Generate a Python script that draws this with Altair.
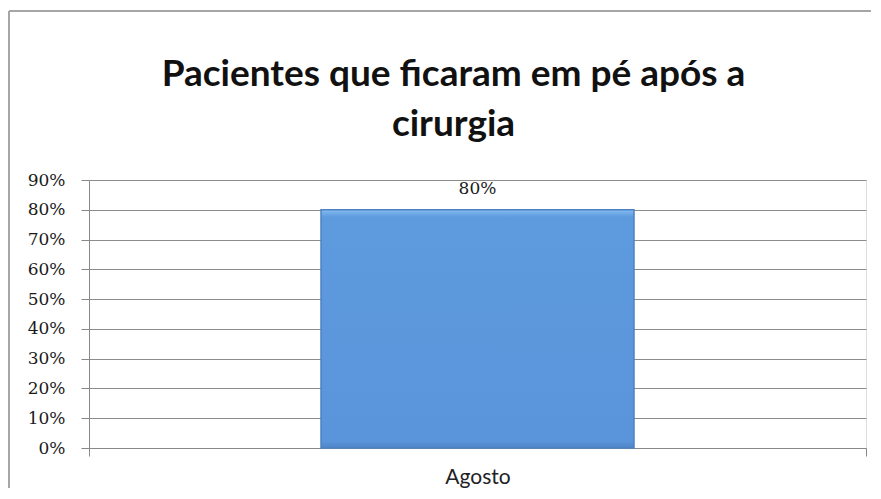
import altair as alt
import pandas as pd

categories = ["Agosto"]
values = [0.80]
labels = ["80%"]
title_lines = ["Pacientes que ficaram em pé após a", "cirurgia"]
y_ticks = [0, 0.1, 0.2, 0.3, 0.4, 0.5, 0.6, 0.7, 0.8, 0.9]

df = pd.DataFrame({"mes": categories, "valor": values, "rotulo": labels})

W, H = 777, 268

x_axis = alt.Axis(labelAngle=0, labelFont="Lato", labelFontSize=21,
                  labelColor="#222", labelPadding=10, tickBand="extent",
                  ticks=True, tickSize=8, tickColor="#888", domainColor="#888",
                  grid=False)
y_axis = alt.Axis(values=y_ticks, format=".0%", labelFont="DejaVu Serif",
                  labelFontSize=17, labelColor="#1a1a1a", labelPadding=16,
                  labelOverlap=False, tickSize=8, tickColor="#888",
                  domainColor="#888", gridColor="#8c8c8c", gridWidth=1)
x_enc = alt.X("mes:N", title=None, axis=x_axis,
              scale=alt.Scale(paddingInner=0, paddingOuter=0))
y_enc = alt.Y("valor:Q", title=None, axis=y_axis,
              scale=alt.Scale(domain=[0, 0.9], nice=False))

base = alt.Chart(df)

bars = base.mark_bar(
    size=313,
    color=alt.Gradient(
        gradient="linear", x1=0, y1=0, x2=0, y2=1,
        stops=[alt.GradientStop(offset=0, color="#86bdf0"),
               alt.GradientStop(offset=0.03, color="#5e9ade"),
               alt.GradientStop(offset=0.97, color="#5a95db"),
               alt.GradientStop(offset=1, color="#4f85c8")]),
    stroke="#4c82c4", strokeWidth=1.5
).encode(x=x_enc, y=y_enc)

text = base.mark_text(
    font="DejaVu Serif", fontSize=17, color="#1a1a1a", baseline="bottom", dy=-12
).encode(x=x_enc, y=y_enc, text="rotulo:N")

one = pd.DataFrame({"a": [0]})
border_v = alt.Chart(one).mark_rule(color="#a6a6a6", strokeWidth=2).encode(
    x=alt.value(-80), y=alt.value(-169), y2=alt.value(400)
)
border_h = alt.Chart(one).mark_rule(color="#a6a6a6", strokeWidth=2).encode(
    x=alt.value(-80), x2=alt.value(900), y=alt.value(-169)
)

chart = alt.layer(border_v, border_h, bars, text).properties(
    width=W, height=H,
    title=alt.TitleParams(title_lines, font="Lato", fontSize=37, fontWeight="bold",
                          color="#111", anchor="middle", dx=-24, lineHeight=50,
                          offset=0, dy=134),
    autosize=alt.AutoSizeParams(type="none"),
    padding={"left": 81, "top": 172, "right": 5, "bottom": 40},
).configure_view(stroke=None).configure(background="white")

chart.save("out.html", embed_options={"renderer": "svg", "actions": False})
